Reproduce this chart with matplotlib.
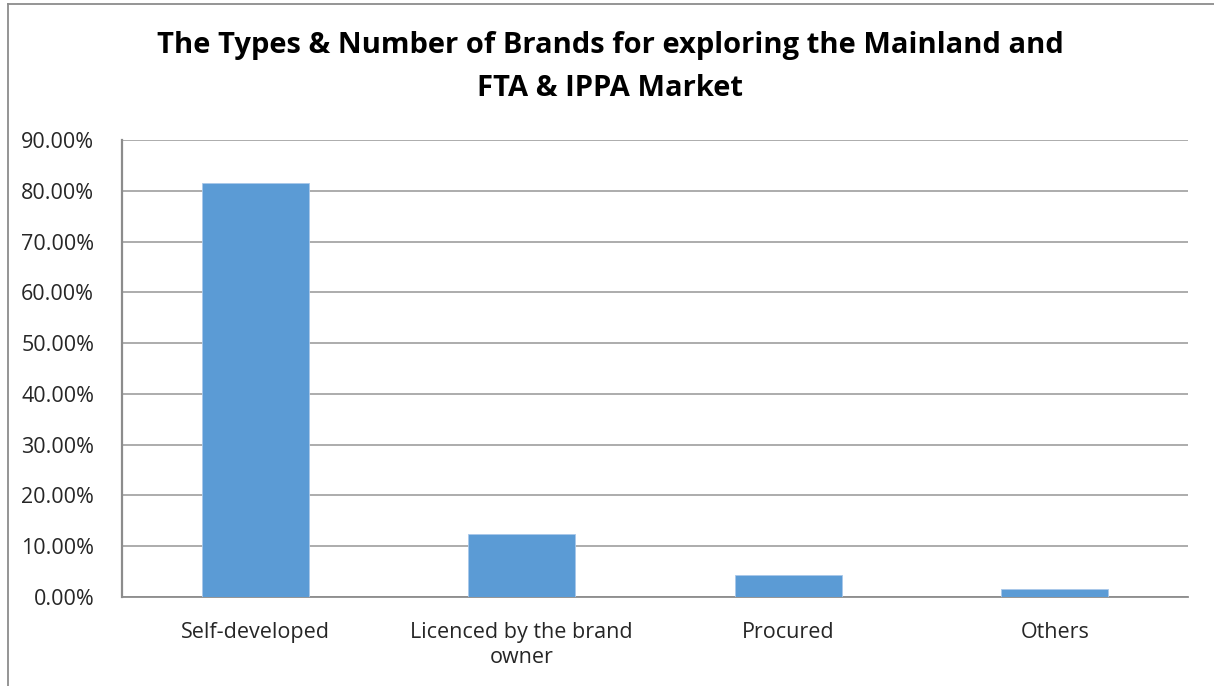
import numpy as np
import matplotlib
matplotlib.use("Agg")
from matplotlib import pyplot as plt
from matplotlib.lines import Line2D

categories = ["Self-developed", "Licenced by the brand\nowner", "Procured", "Others"]
shares = [81.45, 12.45, 4.35, 1.65]
yticks = [0, 10, 20, 30, 40, 50, 60, 70, 80, 90]
title = "The Types & Number of Brands for exploring the Mainland and\nFTA & IPPA Market"

plt.rcParams['font.family'] = ['Open Sans', 'DejaVu Sans']

W, H = 1214, 686
fig = plt.figure(figsize=(W / 100, H / 100), dpi=100)
ax = fig.add_axes([122 / W, 1 - 597 / H, (1188 - 122) / W, (597 - 140) / H])

x = np.arange(len(categories))
ax.bar(x, shares, width=0.4, color="#5B9BD5", edgecolor="#A9C8EA", linewidth=0.6, zorder=3)

ax.set_xlim(-0.5, len(categories) - 0.5)
ax.set_ylim(0, 90)
ax.set_yticks(yticks)
ax.set_yticklabels(["%.2f%%" % v for v in yticks], fontsize=15.5, color="#262626")
ax.set_xticks(x)
ax.set_xticklabels(categories, fontsize=15.5, color="#262626", linespacing=1.25)
ax.tick_params(axis="both", length=0)
ax.tick_params(axis="y", pad=20)
ax.tick_params(axis="x", pad=18)

ax.grid(axis="y", color="#A6A6A6", linewidth=1.3, zorder=0)
for s in ["top", "right"]:
    ax.spines[s].set_visible(False)
ax.spines["left"].set_color("#8C8C8C")
ax.spines["left"].set_linewidth(1.6)
ax.spines["bottom"].set_color("#8C8C8C")
ax.spines["bottom"].set_linewidth(1.3)

fig.text(610 / W, 1 - 67 / H, title, ha="center", va="center", fontsize=21,
         fontweight="bold", color="black", linespacing=1.62)

# outer chart frame (top and left edges visible)
fig.add_artist(Line2D([8 / W, 1], [1 - 3.5 / H, 1 - 3.5 / H], color="#8C8C8C", linewidth=1.3))
fig.add_artist(Line2D([8 / W, 8 / W], [0, 1 - 3.5 / H], color="#8C8C8C", linewidth=1.3))

fig.savefig("out.png", dpi=100)
